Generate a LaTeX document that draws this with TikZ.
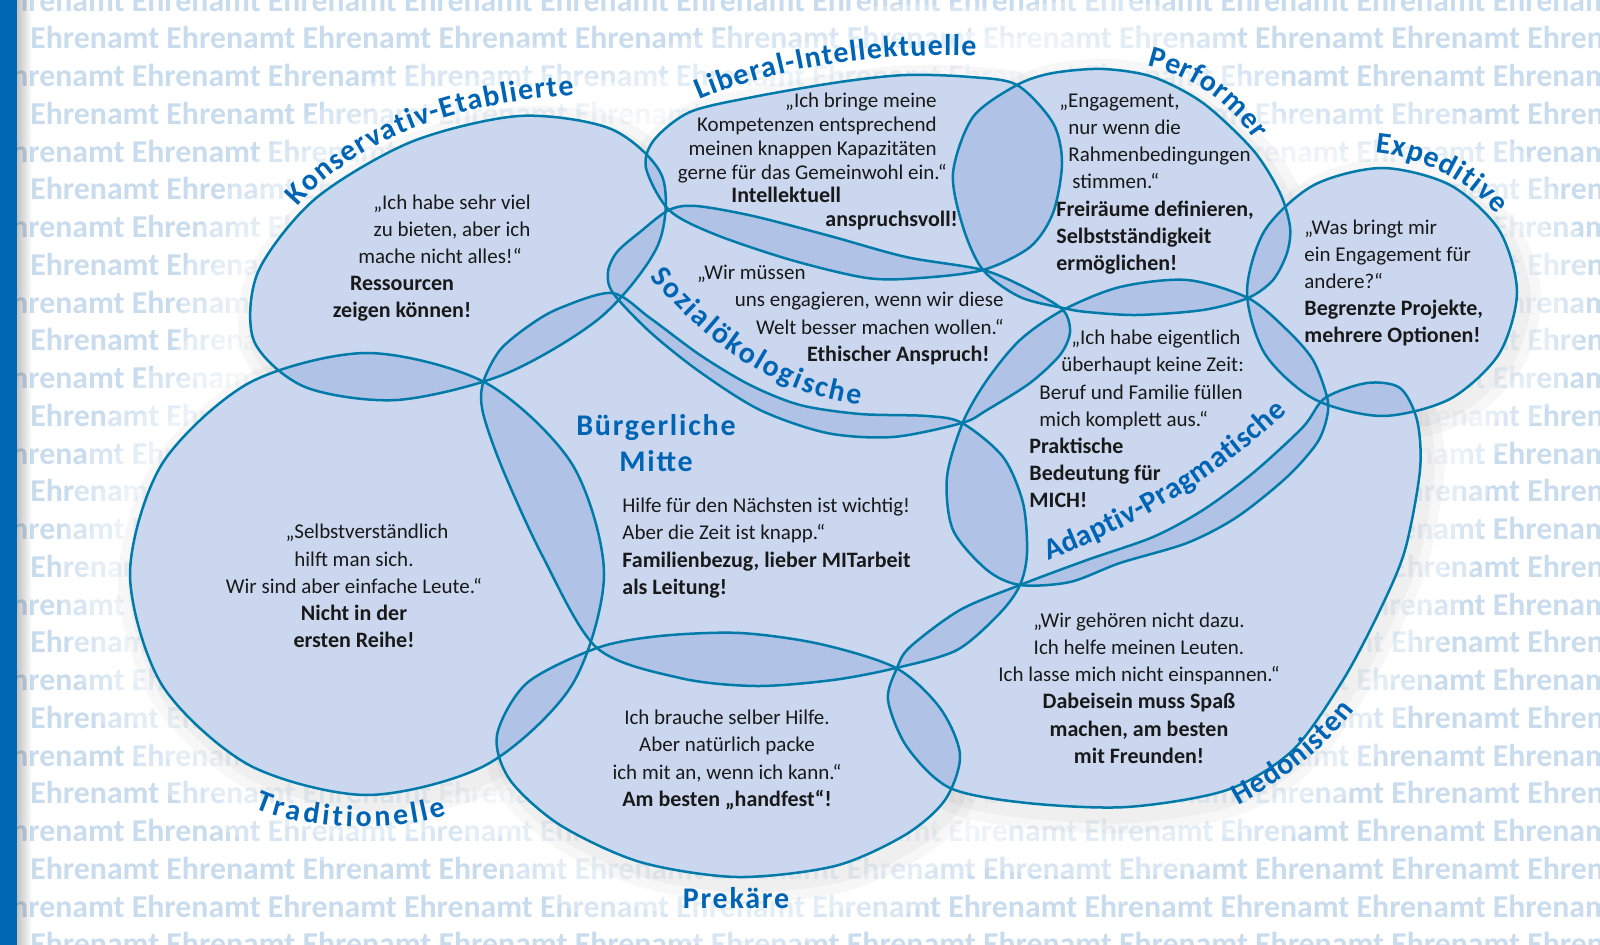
\documentclass[tikz,border=0pt]{standalone}
\usepackage{fontspec}
\setmainfont{Carlito}
\usetikzlibrary{decorations.text}

\definecolor{barblue}{RGB}{0,103,178}
\definecolor{wordblue}{RGB}{200,220,238}
\definecolor{blobblue}{RGB}{151,177,225}
\definecolor{lineblue}{RGB}{0,122,168}
\definecolor{lblblue}{RGB}{0,100,180}

\newcommand\hl[1]{{\bfseries\fontsize{11}{13.6}\selectfont #1}}
\newcommand\lblfont{\fontsize{15}{18}\selectfont\bfseries}

\tikzset{
	quotetxt/.style={inner sep=0pt, text=black!90, font=\fontsize{10.5}{13.6}\selectfont},
	bgword/.style={inner sep=0pt, anchor=west, text=wordblue, font=\fontsize{15.9}{16}\selectfont\bfseries},
	blobline/.style={draw=lineblue, line width=1.25pt},
	blobfill/.style={fill=blobblue, fill opacity=0.5},
	lbl/.style={inner sep=0pt, text=lblblue, font={\lblfont\addfontfeature{LetterSpace=6}}},
	curvedlbl/.style={decorate, decoration={text along path, text align={fit to path}, text color=lblblue, text={|\lblfont|#1}}},
}

\begin{document}
\begin{tikzpicture}[x=0.5pt, y=-0.5pt]
		\def\blobKon{plot[smooth cycle] coordinates {(662,176) (658,245) (601,317) (505,374) (397,400) (305,387) (254,341) (258,272) (315,199) (411,142) (519,116) (611,129)}}
		\def\blobLib{plot[smooth cycle] coordinates {(646,168) (654,140) (690,112) (753,97) (840,82) (906,75) (970,77) (1017,85) (1053,123) (1062,163) (1053,213) (1030,247) (983,270) (920,278) (867,278) (791,260) (714,234) (669,210)}}
		\def\blobSoz{plot[smooth cycle] coordinates {(613,293) (608,272) (617,252) (640,232) (669,210) (696,206) (753,216) (830,236) (906,257) (983,270) (1030,290) (1063,310) (1070,332) (1060,355) (1030,383) (987,410) (962,423) (893,437) (827,433) (760,410) (700,372) (650,332)}}
		\def\blobPer{plot[smooth cycle] coordinates {(1017,85) (1053,73) (1103,69) (1153,77) (1203,103) (1253,150) (1280,193) (1290,227) (1287,253) (1273,280) (1248,298) (1203,310) (1137,315) (1087,312) (1063,308) (1020,297) (983,270) (963,227) (953,173) (973,117)}}
		\def\blobExp{plot[smooth cycle] coordinates {(1517,292) (1499,354) (1450,399) (1382,416) (1314,399) (1265,354) (1247,292) (1265,230) (1314,185) (1382,168) (1450,185) (1499,230)}}
		\def\blobAda{plot[smooth cycle] coordinates {(1020,585) (987,570) (953,530) (947,477) (963,422) (987,380) (1020,340) (1063,310) (1120,287) (1187,280) (1248,298) (1287,330) (1313,360) (1327,397) (1327,417) (1317,443) (1287,477) (1237,517) (1187,543) (1120,563) (1070,582)}}
		\def\blobBue{plot[smooth cycle] coordinates {(483,383) (500,350) (530,325) (560,308) (612,293) (650,318) (700,355) (750,385) (800,405) (860,414) (927,416) (962,423) (1003,457) (1023,503) (1027,553) (1020,585) (1000,613) (957,650) (896,668) (833,680) (756,686) (680,678) (597,648) (543,557) (503,470) (483,413)}}
		\def\blobTra{plot[smooth cycle] coordinates {(604,574) (572,685) (486,765) (367,795) (249,765) (162,685) (130,574) (162,464) (249,383) (367,353) (486,383) (572,464)}}
		\def\blobPre{plot[smooth cycle] coordinates {(597,648) (660,636) (740,633) (820,644) (896,668) (940,708) (960,755) (945,800) (905,835) (835,866) (737,877) (640,862) (560,825) (510,780) (497,735) (527,683)}}
		\def\blobHed{plot[smooth cycle] coordinates {(897,668) (910,647) (960,610) (1020,585) (1087,560) (1153,537) (1203,510) (1253,473) (1303,427) (1325,398) (1367,383) (1400,388) (1417,420) (1420,470) (1405,550) (1380,610) (1343,680) (1293,750) (1227,790) (1127,807) (1027,803) (950,788) (907,747) (888,700)}}
		\def\allblobs{\blobKon,\blobLib,\blobSoz,\blobPer,\blobExp,\blobAda,\blobBue,\blobTra,\blobPre,\blobHed}
		\def\bgline{Ehrenamt Ehrenamt Ehrenamt Ehrenamt Ehrenamt Ehrenamt Ehrenamt Ehrenamt Ehrenamt Ehrenamt Ehrenamt Ehrenamt Ehrenamt}
		
		\useasboundingbox (0,0) rectangle (1600,945);
		% background words
		\foreach \k in {0,...,25} {
			\pgfmathsetmacro\rx{isodd(\k) ? 30 : -4.6}
			\node[bgword] (row\k) at (\rx, 37.75*\k) {\bgline};
		}
		% bar on the left
		\foreach \w in {2,4,...,14} {
			\fill[black, opacity=0.035] (17,0) rectangle (17+\w,945);
		}
		\fill[barblue] (0,0) rectangle (17,945);
		
		% glow and shadow round the blobs
		\foreach \b in \allblobs {
			\draw[white, opacity=0.3, line width=70pt] \b;
			\draw[white, opacity=0.3, line width=44pt] \b;
			\draw[white, opacity=0.3, line width=22pt] \b;
		}
		\foreach \b in \allblobs {
			\draw[black, opacity=0.03, line width=18pt, shift={(6,8)}] \b;
			\draw[black, opacity=0.03, line width=8pt, shift={(6,8)}] \b;
		}
		% blobs
		\foreach \b in \allblobs {
			\fill[white] \b;
		}
		\foreach \b in \allblobs {
			\fill[blobfill] \b;
		}
		\foreach \b in \allblobs {
			\draw[blobline] \b;
		}
		
		% curved labels
		\path[curvedlbl=Konservativ-Etablierte] (298,207) .. controls (355,140) and (455,103) .. (574,95);
		\path[curvedlbl=Liberal-Intellektuelle] (700,100) .. controls (775,68) and (872,52) .. (976,56);
		\path[curvedlbl=Performer] (1147,66) .. controls (1190,76) and (1228,100) .. (1255,140);
		\path[curvedlbl=Expeditive] (1375,153) .. controls (1420,157) and (1465,178) .. (1497,215);
		\path[curvedlbl=Sozialökologische] (650,277) .. controls (700,335) and (765,392) .. (860,405);
		\path[curvedlbl=Adaptiv-Pragmatische] (1048,560) .. controls (1130,530) and (1215,480) .. (1287,412);
		\path[curvedlbl=Hedonisten] (1238,805) .. controls (1275,785) and (1320,755) .. (1355,710);
		\path[curvedlbl=Traditionelle] (255,808) .. controls (300,828) and (390,835) .. (447,815);
		% straight labels
		\node[lbl, align=center] (buelbl) at (656,443) {Bürgerliche\\Mitte};
		\node[lbl] (prelbl) at (736,898) {Prekäre};
		
		% texts in the blobs
		\node[quotetxt, align=center] (konq) at (452,229) {„Ich habe sehr viel\\zu bieten, aber ich\\mache nicht alles!“\hspace*{12pt}};
		\node[quotetxt, align=center] (konb) at (402,299) {\hl{Ressourcen}\\\hl{zeigen können!}};
		\node[quotetxt, align=right, anchor=east, font=\fontsize{10.5}{12}\selectfont] (libq) at (937,138) {„Ich bringe meine\\Kompetenzen entsprechend\\meinen knappen Kapazitäten\\gerne für das Gemeinwohl ein.“\hspace*{-5pt}};
		\node[quotetxt, align=left, anchor=west, font=\fontsize{10.5}{12}\selectfont] (libb) at (731,209) {\hl{Intellektuell}\\\hspace*{47pt}\hl{anspruchsvoll!}};
		\node[quotetxt, align=left, anchor=west] (pert) at (1056,184) {\hspace*{1.5pt}„Engagement,\\\hspace*{6pt}nur wenn die\\\hspace*{6pt}Rahmenbedingungen\\\hspace*{8pt}stimmen.“\\\hl{Freiräume definieren,}\\\hl{Selbstständigkeit}\\\hl{ermöglichen!}};
		\node[quotetxt, align=left, anchor=west] (expt) at (1304,283) {„Was bringt mir\\ein Engagement für\\andere?“\\\hl{Begrenzte Projekte,}\\\hl{mehrere Optionen!}};
		\node[quotetxt, align=right, anchor=east] (sozt) at (1004,315) {„Wir müssen\hspace*{99pt}\\uns engagieren, wenn wir diese\\Welt besser machen wollen.“\\\hl{Ethischer Anspruch!}\hspace*{7pt}};
		\node[quotetxt, align=left, anchor=west] (adat) at (1029,419) {\hspace*{21pt}„Ich habe eigentlich\\\hspace*{16pt}überhaupt keine Zeit:\\\hspace*{5pt}Beruf und Familie füllen\\\hspace*{5pt}mich komplett aus.“\\\hl{Praktische}\\\hl{Bedeutung für}\\\hl{MICH!}};
		\node[quotetxt, align=left, anchor=west] (buet) at (622,548) {Hilfe für den Nächsten ist wichtig!\\Aber die Zeit ist knapp.“\\\hl{Familienbezug, lieber MITarbeit}\\\hl{als Leitung!}};
		\node[quotetxt, align=center] (trat) at (354,586) {\hspace*{13pt}„Selbstverständlich\\hilft man sich.\\Wir sind aber einfache Leute.“\\\hl{Nicht in der}\\\hl{ersten Reihe!}};
		\node[quotetxt, align=center] (pret) at (727,760) {Ich brauche selber Hilfe.\\Aber natürlich packe\\ich mit an, wenn ich kann.“\\\hl{Am besten „handfest“!}};
		\node[quotetxt, align=center] (hedt) at (1139,688) {„Wir gehören nicht dazu.\\Ich helfe meinen Leuten.\\Ich lasse mich nicht einspannen.“\\\hl{Dabeisein muss Spaß}\\\hl{machen, am besten}\\\hl{mit Freunden!}};
\end{tikzpicture}
\end{document}
